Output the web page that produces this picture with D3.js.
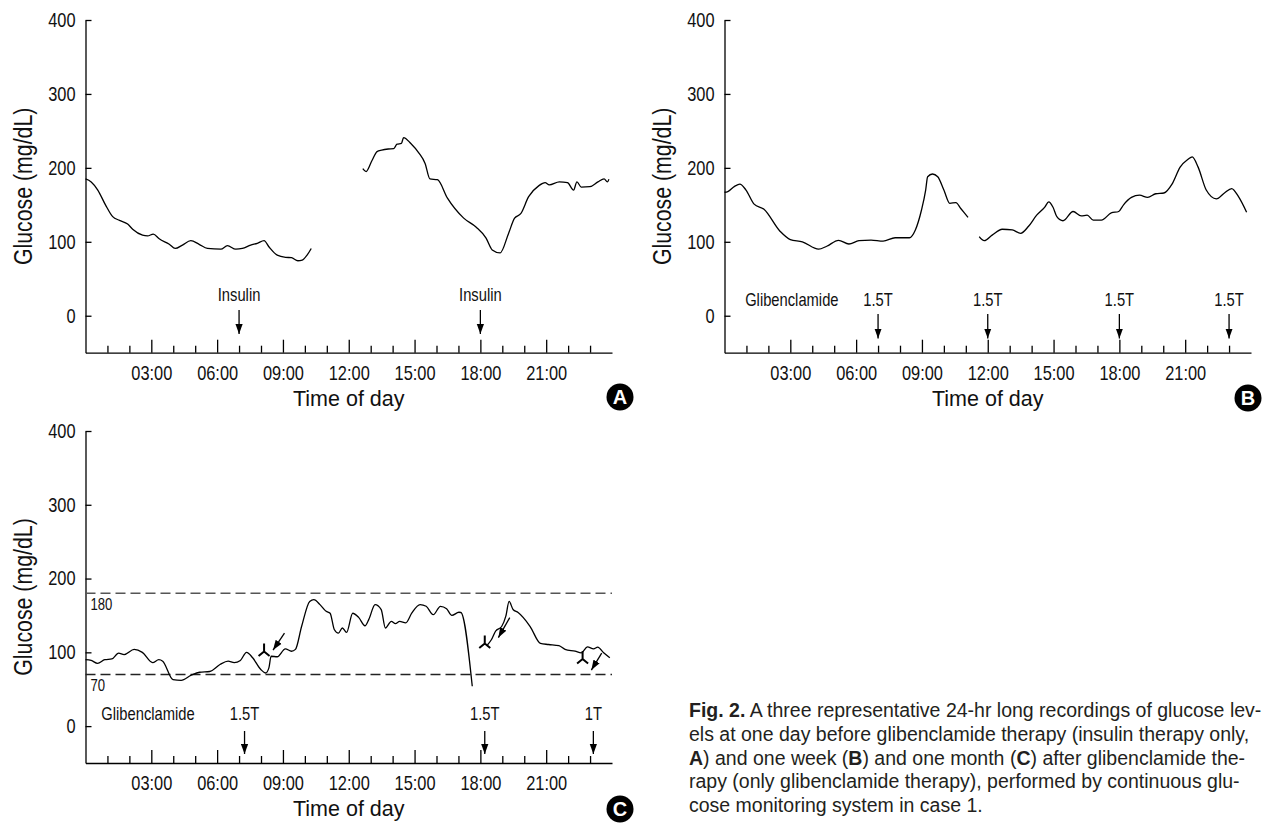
<!DOCTYPE html>
<html>
<head>
<meta charset="utf-8">
<script src="https://cdn.jsdelivr.net/npm/d3@7"></script>
<style>
  body { margin: 0; background: #fff; overflow: hidden; }
  svg { display: block; }
</style>
</head>
<body>
<svg id="fig" width="1263" height="823"></svg>
<script>
// ---- axis values ----
var Y_TICKS = [0, 100, 200, 300, 400];
var HOUR_MAJOR = [3, 6, 9, 12, 15, 18, 21];
var HOUR_LABELS = ["03:00", "06:00", "09:00", "12:00", "15:00", "18:00", "21:00"];
var HOUR_MINOR = [1, 2, 4, 5, 7, 8, 10, 11, 13, 14, 16, 17, 19, 20, 22, 23];

// ---- A: one day before glibenclamide (insulin only) ----  [hour, mg/dL]
var A_SEG1 = [[0,185],[0.26,181],[0.56,170],[0.91,150],[1.24,134],[1.55,129],[1.92,124],[2.15,117],[2.6,109],[2.83,108],
  [3.09,110.5],[3.36,104],[3.82,96.6],[4.09,91],[4.42,95.6],[4.8,101.5],[5.18,96.6],[5.56,91],[6.17,90],[6.47,94.7],
  [6.85,90],[7.15,91],[7.53,95.6],[7.83,98],[8.14,101.5],[8.36,93.3],[8.74,82],[9.12,79],[9.39,78.5],[9.68,74.4],
  [9.88,75.3],[10.1,82],[10.29,91]];
var A_SEG2 = [[12.64,199],[12.79,195],[13.06,210],[13.29,222],[13.5,224],[13.8,225.5],[14.05,226],[14.2,232],[14.4,233],
  [14.5,241],[14.83,233],[15.2,220],[15.48,206],[15.7,185],[16.04,184],[16.5,159],[17.24,132],[17.8,120],[18.26,105],
  [18.54,89],[18.9,85],[19.28,111],[19.56,132],[19.84,138],[20.2,161],[20.67,176],[20.95,180],[21.14,177],[21.6,181],
  [21.97,180],[22.25,170],[22.4,181],[22.6,174],[22.99,174.5],[23.36,181],[23.64,185],[23.79,181],[23.86,184.5]];
var A_DOSES = [[7, "Insulin"], [18, "Insulin"]];

// ---- B: one week after ----
var B_SEG1 = [[0,167],[0.15,168],[0.46,175],[0.7,178],[0.98,170],[1.35,151],[1.8,144],[2.54,114],[3.0,103],[3.55,100],
  [4.29,90],[4.66,94],[5.2,102],[5.67,97],[6.13,101.5],[6.68,102.4],[7.23,101],[7.78,105.5],[8.43,105.5],[8.7,116],
  [8.98,143],[9.17,170],[9.26,188],[9.48,191.7],[9.72,188],[10.0,170],[10.27,152],[10.55,153],[10.77,145],[11.1,133]];
var B_SEG2 = [[11.61,107],[11.84,101.5],[12.2,109],[12.66,117],[13.12,116],[13.5,111.5],[13.86,121],[14.23,136],[14.6,147],
  [14.78,154],[14.97,147],[15.15,134],[15.43,128.5],[15.89,141],[16.26,135],[16.53,136],[16.81,129.4],[17.18,129.4],
  [17.63,139],[17.97,141],[18.19,150],[18.55,160],[18.92,163],[19.29,160],[19.66,165],[20.03,166],[20.4,178],[20.77,201],
  [21.13,211.6],[21.32,215],[21.59,201],[21.96,170],[22.42,158],[22.79,166],[23.12,172],[23.43,161],[23.8,140]];
var B_DOSES = [[3.07, "Glibenclamide"], [7, "1.5T"], [12, "1.5T"], [18, "1.5T"], [23, "1.5T"]];

// ---- C: one month after ----
var C_SEG1 = [[0,90],[0.26,89],[0.55,85],[0.88,90],[1.2,91],[1.51,99],[1.76,97],[2.22,104],[2.59,100],[3.06,86],[3.34,90],
  [3.52,88],[3.99,63],[4.36,62],[4.82,69],[5.2,73],[5.66,74],[6.13,83.5],[6.5,88],[6.78,86],[7.06,89],[7.34,100],
  [7.62,92.6],[7.99,76.7],[8.21,72],[8.36,79],[8.46,94.7],[8.74,94],[9.11,104.7],[9.39,101.5],[9.57,104],[9.85,135],
  [10.22,169],[10.41,171.4],[10.69,164.7],[10.97,155.6],[11.15,153],[11.34,131],[11.53,126],[11.71,133],[11.9,127],
  [12.18,153],[12.46,147],[12.74,136],[12.92,145],[13.2,164.7],[13.48,158],[13.67,133],[13.94,142],[14.13,139],
  [14.32,142],[14.6,140],[14.87,153],[15.25,164.7],[15.53,162.4],[15.85,151],[16.18,162.4],[16.46,159],[16.7,150],
  [17.02,154.3],[17.11,154],[17.63,54]];
var C_SEG2 = [[18.32,110],[18.5,117],[18.69,128.6],[18.97,135],[19.16,149],[19.31,169],[19.49,158],[19.72,154],[20.27,135],
  [20.74,112],[21.11,110.6],[21.58,109],[21.86,104],[22.32,101.5],[22.6,99.3],[22.88,107.4],[23.16,104.7],[23.35,107],
  [23.62,99.3],[23.9,92.6]];
var C_DOSES = [[2.85, "Glibenclamide"], [7.25, "1.5T"], [18.2, "1.5T"], [23.15, "1T"]];
var C_TARGETS = [180, 70];
var C_MEALS = [[8.14, 101], [18.2, 112], [22.66, 91]];
var C_POINTERS = [[9.07, 126, 8.55, 103], [19.34, 147, 18.82, 120], [23.53, 99, 23.06, 76]]; // from -> to

var CAPTION = [
  [["Fig. 2.", true], [" A three representative 24-hr long recordings of glucose lev-", false]],
  [["els at one day before glibenclamide therapy (insulin therapy only,", false]],
  [["A", true], [") and one week (", false], ["B", true], [") and one month (", false], ["C", true], [") after glibenclamide the-", false]],
  [["rapy (only glibenclamide therapy), performed by continuous glu-", false]],
  [["cose monitoring system in case 1.", false]]
];

var SANS = '"Liberation Sans",Arial,Helvetica,sans-serif';
var SQUEEZE = 0.82;   // no condensed face installed, so narrow the regular one

var svg = d3.select("#fig");
var defs = svg.append("defs");
defs.append("marker").attr("id", "ah").attr("viewBox", "0 -4 10 8")
  .attr("refX", 10).attr("refY", 0).attr("markerWidth", 10).attr("markerHeight", 8)
  .attr("markerUnits", "userSpaceOnUse").attr("orient", "auto")
  .append("path").attr("d", "M0,-3.6L10,0L0,3.6Z").attr("fill", "#000");

// condensed look: scale each text horizontally about its own x
function narrow(sel, size) {
  sel.style("font-family", SANS).style("font-size", size + "px").attr("fill", "#111")
    .attr("transform", function () {
      var x = +this.getAttribute("x") || 0;
      return "translate(" + x + ",0) scale(" + SQUEEZE + ",1) translate(" + (-x) + ",0)";
    });
}

function panel(p) {
  var x = d3.scaleLinear().domain([0, 24]).range([p.x0, p.x1]);
  var y = d3.scaleLinear().domain([-50, 400]).range([p.yb, p.yt]);
  var g = svg.append("g");

  // y axis, ticks pointing inward
  var ya = g.append("g").attr("transform", "translate(" + p.x0 + ",0)")
    .call(d3.axisLeft(y).tickValues(Y_TICKS).tickSizeInner(-6).tickSizeOuter(0).tickPadding(10));
  // x axis: hourly minor + 3-hourly major ticks, pointing up
  var xm = g.append("g").attr("transform", "translate(0," + p.yb + ")")
    .call(d3.axisBottom(x).tickValues(HOUR_MINOR).tickSizeInner(-7).tickSizeOuter(0).tickFormat(""));
  var xa = g.append("g").attr("transform", "translate(0," + p.yb + ")")
    .call(d3.axisBottom(x).tickValues(HOUR_MAJOR).tickSizeInner(-13).tickSizeOuter(0).tickPadding(13)
      .tickFormat(function (d, i) { return HOUR_LABELS[i]; }));
  [ya, xm, xa].forEach(function (a) {
    a.attr("font-family", null).attr("font-size", null);
    a.selectAll("path,line").attr("stroke", "#000").attr("stroke-width", 1.3);
    narrow(a.selectAll("text"), 20);
  });
  xm.select(".domain").remove();

  g.append("text").attr("transform", "translate(" + (p.x0 - 54) + "," + ((p.yt + p.yb) / 2) + ") rotate(-90) scale(" + SQUEEZE + ",1)")
    .attr("text-anchor", "middle").style("font-family", SANS).style("font-size", "26px").attr("fill", "#111")
    .text("Glucose (mg/dL)");
  g.append("text").attr("x", (p.x0 + p.x1) / 2).attr("y", p.yb + 53).attr("text-anchor", "middle")
    .style("font-family", SANS).style("font-size", "21.5px").attr("fill", "#111").text("Time of day");

  // target range lines
  (p.targets || []).forEach(function (t, i) {
    g.append("line").attr("x1", p.x0).attr("x2", p.x1).attr("y1", y(t)).attr("y2", y(t))
      .attr("stroke", i === 0 ? "#555" : "#222").attr("stroke-width", 1.4).attr("stroke-dasharray", "10,5");
    narrow(g.append("text").attr("x", p.x0 + 5).attr("y", y(t) + 17).text(t), 16);
  });

  var line = d3.line().x(function (d) { return x(d[0]); }).y(function (d) { return y(d[1]); }).curve(d3.curveMonotoneX);
  p.segs.forEach(function (s) {
    g.append("path").attr("d", line(s)).attr("fill", "none").attr("stroke", "#000").attr("stroke-width", 1.3);
  });

  // dose annotations
  p.doses.forEach(function (d) {
    narrow(g.append("text").attr("x", x(d[0])).attr("y", p.labY).attr("text-anchor", "middle").text(d[1]), 18);
    if (d[1] === "Glibenclamide") return;
    g.append("line").attr("x1", x(d[0])).attr("x2", x(d[0])).attr("y1", p.arrY[0]).attr("y2", p.arrY[1])
      .attr("stroke", "#000").attr("stroke-width", 1.3).attr("marker-end", "url(#ah)");
  });

  (p.meals || []).forEach(function (m) {
    var cx = x(m[0]), cy = y(m[1]);
    g.append("path").attr("d", "M" + cx + "," + (cy - 8) + "V" + cy + "M" + (cx - 5.5) + "," + (cy + 4.5) +
      "L" + cx + "," + cy + "L" + (cx + 5.5) + "," + (cy + 4.5))
      .attr("fill", "none").attr("stroke", "#000").attr("stroke-width", 2);
  });
  (p.pointers || []).forEach(function (a) {
    g.append("line").attr("x1", x(a[0])).attr("y1", y(a[1])).attr("x2", x(a[2])).attr("y2", y(a[3]))
      .attr("stroke", "#000").attr("stroke-width", 1.3).attr("marker-end", "url(#ah)");
  });

  // circled panel letter
  g.append("circle").attr("cx", p.badge[0]).attr("cy", p.badge[1]).attr("r", 13.5).attr("fill", "#000");
  g.append("text").attr("x", p.badge[0]).attr("y", p.badge[1] + 7).attr("text-anchor", "middle")
    .style("font-family", SANS).style("font-weight", "bold").style("font-size", "20px").attr("fill", "#fff").text(p.letter);
}

panel({ x0: 85.5, x1: 612, yt: 20, yb: 352.7, segs: [A_SEG1, A_SEG2], doses: A_DOSES,
  labY: 301.5, arrY: [310, 334], badge: [620, 397], letter: "A" });
panel({ x0: 724.5, x1: 1251, yt: 20, yb: 352.7, segs: [B_SEG1, B_SEG2], doses: B_DOSES,
  labY: 306, arrY: [314, 338.5], badge: [1248, 398], letter: "B" });
panel({ x0: 85.5, x1: 612, yt: 431, yb: 763, segs: [C_SEG1, C_SEG2], doses: C_DOSES,
  labY: 720, arrY: [731, 754], badge: [620, 809], letter: "C",
  targets: C_TARGETS, meals: C_MEALS, pointers: C_POINTERS });

// caption, sized so every line stays inside the page
var cap = svg.append("g").style("font-family", SANS).style("font-size", "19.5px").attr("fill", "#231f20");
CAPTION.forEach(function (runs, i) {
  var t = cap.append("text").attr("x", 689).attr("y", 717 + i * 23.75);
  runs.forEach(function (r) {
    t.append("tspan").style("font-weight", r[1] ? "bold" : null).text(r[0]);
  });
});
</script>
</body>
</html>
